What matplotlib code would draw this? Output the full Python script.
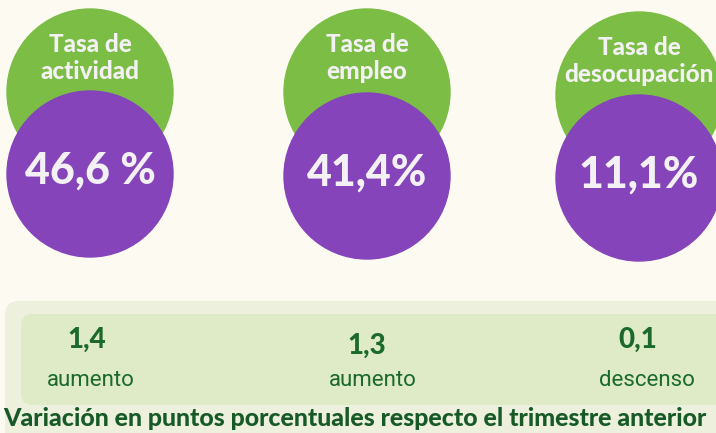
import matplotlib.pyplot as plt
from matplotlib.patches import Circle, FancyBboxPatch

# data
labels = ["Tasa de\nactividad", "Tasa de\nempleo", "Tasa de\ndesocupación"]
rates = ["46,6 %", "41,4%", "11,1%"]
changes = ["1,4", "1,3", "0,1"]
directions = ["aumento", "aumento", "descenso"]
footnote = "Variación en puntos porcentuales respecto el trimestre anterior"

# layout (pixels)
cx = [90, 367, 639]
r = 83
green_cy = [92, 92, 95]
purple_cy = [174, 176, 178]
chg_x = [87, 367, 638]
chg_y = [340, 346, 340]
dir_x = [91, 373, 647]

bg = "#fdfaf2"
green = "#7bbd45"
purple = "#8544ba"
dark = "#1b6a2c"
white = "#f3f1f4"

fig = plt.figure(figsize=(7.16, 4.33), dpi=100, facecolor=bg)
ax = fig.add_axes([0, 0, 1, 1])
ax.set_xlim(0, 716)
ax.set_ylim(433, 0)
ax.set_facecolor(bg)
ax.axis("off")

for i in range(3):
    ax.add_patch(Circle((cx[i], green_cy[i]), r, color=green, zorder=1))
    ax.add_patch(Circle((cx[i], purple_cy[i]), r, color=purple, zorder=2))
    ax.text(cx[i], green_cy[i] - 34, labels[i], ha="center", va="center",
            color=white, fontsize=17.5, fontweight="black", family="Lato",
            linespacing=1.25, zorder=3)
    ax.text(cx[i], purple_cy[i] - 3, rates[i], ha="center", va="center",
            color=white, fontsize=31, fontweight="black", family="Lato", zorder=3)

# bottom panel
ax.add_patch(FancyBboxPatch((5, 301), 740, 160, boxstyle="round,pad=0,rounding_size=14",
                            fc="#ecf0dc", ec="none", zorder=1))
ax.add_patch(FancyBboxPatch((21, 314), 720, 91, boxstyle="round,pad=0,rounding_size=12",
                            fc="#dfeac7", ec="none", zorder=2))
for i in range(3):
    ax.text(chg_x[i], chg_y[i], changes[i], ha="center", va="center", color=dark,
            fontsize=20, fontweight="black", family="Lato", zorder=3)
    ax.text(dir_x[i], 381, directions[i], ha="center", va="center", color=dark,
            fontsize=16, family="Roboto", zorder=3)
ax.text(3, 418, footnote, ha="left", va="center", color="#175a27",
        fontsize=17.9, fontweight="black", family="Lato", zorder=3)

plt.savefig("out.png", dpi=100, facecolor=bg)
